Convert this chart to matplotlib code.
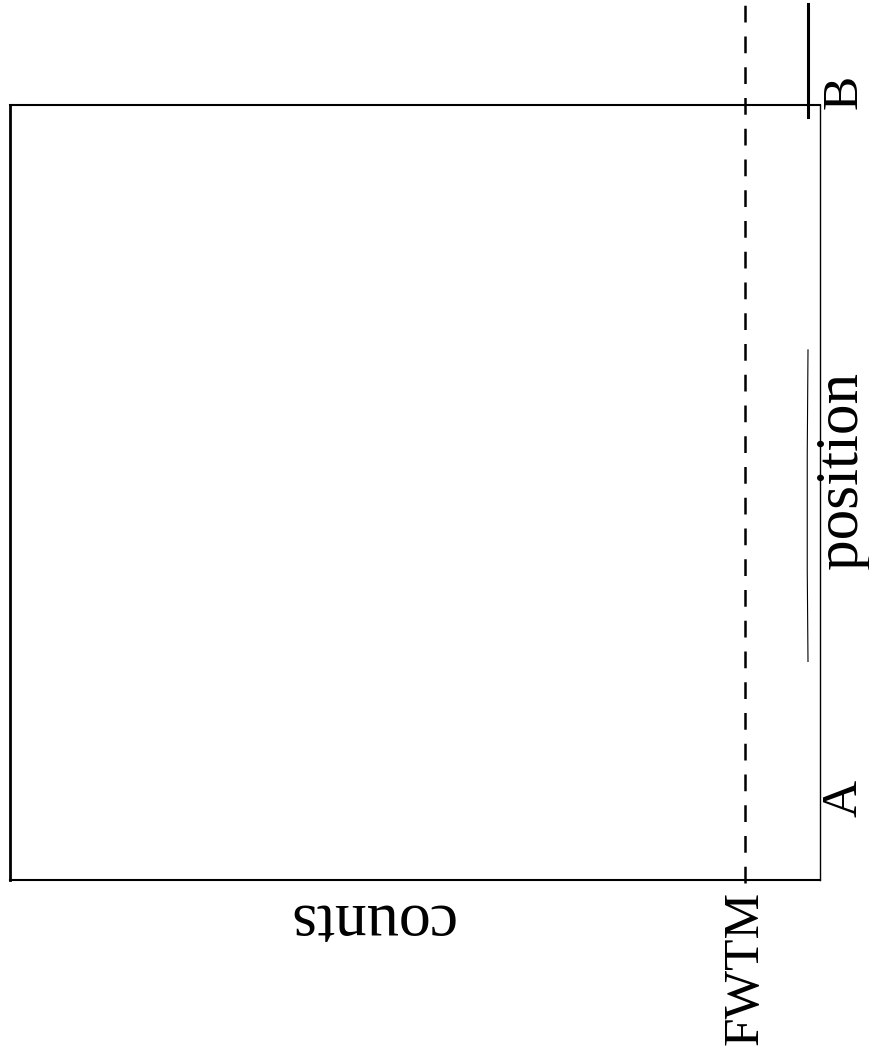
# plot.py
# Rotated peak sketch: counts vs position, with the FWTM level marked

import matplotlib.pyplot as plt

# Values (counts axis runs right to left)
fwtm_level = 10.0
fwtm_span = [-0.4, 113.5]          # position range of the dashed FWTM line
peak_b_counts = [1.6, 1.6]
peak_b_pos = [98.5, 113.0]
tail_counts = [1.6, 1.7, 1.7, 1.6]
tail_pos = [28.2, 40.0, 55.0, 68.4]
tick_labels = {'A': 10.5, 'B': 101.7}

plt.rcParams['font.family'] = ['Liberation Serif', 'DejaVu Serif']

fig = plt.figure(figsize=(8.69, 10.51), dpi=100)
ax = fig.add_axes([10 / 869, 171 / 1051, 810 / 869, 775 / 1051])

ax.set_xlim(108, 0)
ax.set_ylim(0, 100)

# FWTM dashed line
ax.plot([fwtm_level, fwtm_level], fwtm_span, color='black', lw=1.8,
        dashes=(6.7, 5.6), clip_on=False)
# solid line near B
ax.plot(peak_b_counts, peak_b_pos, color='black', lw=2.2, clip_on=False)
# thin line along the position axis
ax.plot(tail_counts, tail_pos, color='black', lw=0.8, clip_on=False)

ax.set_xticks([fwtm_level])
ax.set_xticklabels(['FWTM'], rotation=90, fontsize=37)
ax.tick_params(axis='x', length=0, pad=8)
ax.set_yticks([])

for lab, p in tick_labels.items():
    ax.text(-3.2, p, lab, rotation=90, fontsize=37, ha='center', va='center',
            clip_on=False)
ax.text(-3.0, 52.9, 'position', rotation=90, fontsize=44, ha='center',
        va='center', clip_on=False)
ax.text(60, -5.1, 'counts', rotation=180, fontsize=46, ha='center',
        va='center', clip_on=False)

ax.spines['left'].set_linewidth(2.0)
ax.spines['top'].set_linewidth(1.5)
ax.spines['bottom'].set_linewidth(1.5)
ax.spines['right'].set_linewidth(1.0)

fig.savefig('out.png', dpi=100)
plt.close()
